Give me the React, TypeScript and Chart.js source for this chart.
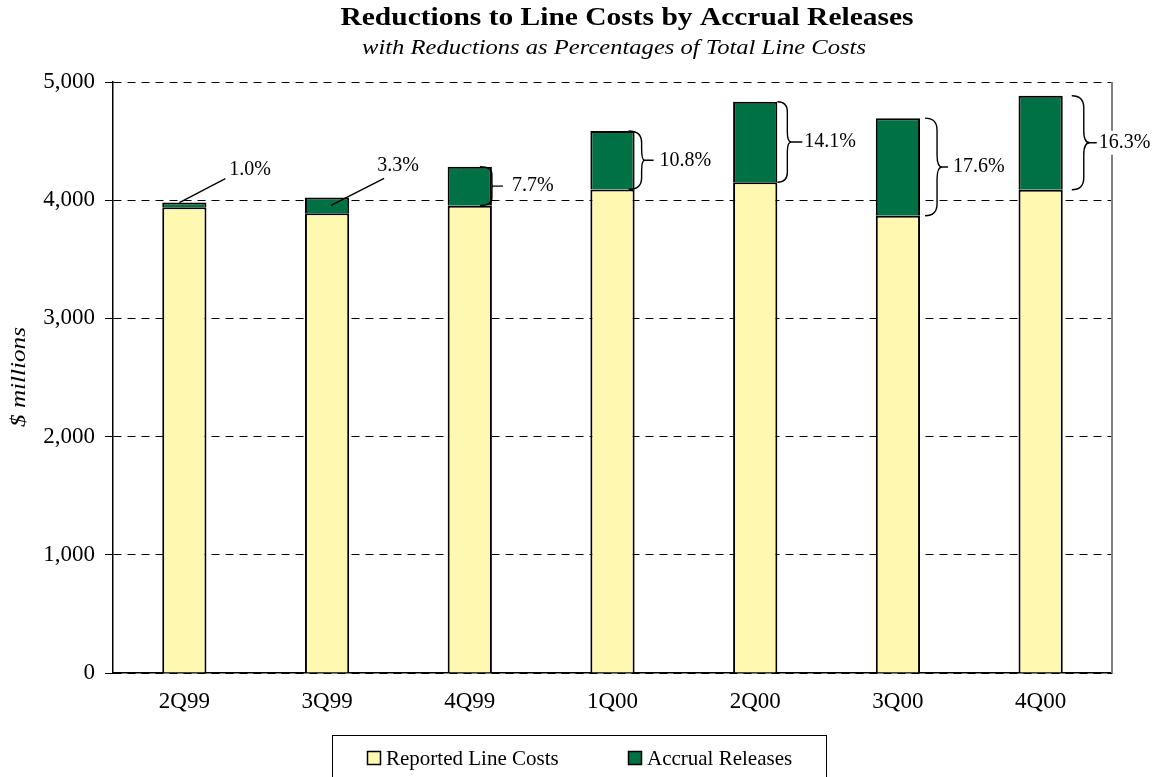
import React, { useEffect, useRef } from "react";
import { Chart, registerables } from "chart.js";

Chart.register(...registerables);

// ---- Data ----
const categories = ["2Q99", "3Q99", "4Q99", "1Q00", "2Q00", "3Q00", "4Q00"];
const reportedLineCosts = [3940, 3890, 3954, 4090, 4152, 3868, 4088];
const accrualReleases = [40, 133, 330, 495, 681, 826, 796];
const reductionLabels = ["1.0%", "3.3%", "7.7%", "10.8%", "14.1%", "17.6%", "16.3%"];
const yTickValues = [0, 1000, 2000, 3000, 4000, 5000];
const seriesNames = ["Reported Line Costs", "Accrual Releases"];
const titleText = "Reductions to Line Costs by Accrual Releases";
const subtitleText = "with Reductions as Percentages of Total Line Costs";
const yAxisTitle = "$ millions";

// ---- Styles ----
const YELLOW = "#FFF8B0";
const GREEN = "#007045";
const FONT = "'Liberation Serif', 'Times New Roman', serif";

// annotation geometry (relative to bar edges), style only
type Leader = { kind: "leader"; sx: number; fromMid: boolean; dx: number; dy: number; lx: number; ly: number; align: CanvasTextAlign };
type Brace = { kind: "brace"; end: number; mid: number; tip: number; tail: number; label: number; bg?: boolean };
const annotationStyles: (Leader | Brace)[] = [
  { kind: "leader", sx: -5, fromMid: false, dx: 46, dy: -24, lx: 50, ly: -33, align: "left" },
  { kind: "leader", sx: 4, fromMid: true, dx: 53, dy: -27, lx: 67, ly: -40, align: "center" },
  { kind: "brace", end: -12, mid: 0, tip: 1, tail: 11, label: 20 },
  { kind: "brace", end: -6, mid: 7, tip: 10, tail: 19, label: 25 },
  { kind: "brace", end: 0, mid: 10, tip: 14, tail: 25, label: 27 },
  { kind: "brace", end: 5, mid: 17, tip: 22, tail: 28, label: 33 },
  { kind: "brace", end: 9, mid: 21, tip: 27, tail: 34, label: 36, bg: true },
];

function drawStretched(ctx: CanvasRenderingContext2D, text: string, cx: number, cy: number, targetWidth: number) {
  const w = ctx.measureText(text).width;
  const sx = targetWidth / w;
  ctx.save();
  ctx.translate(cx, cy);
  ctx.scale(sx, 1);
  ctx.textAlign = "center";
  ctx.fillText(text, 0, 0);
  ctx.restore();
}

const decorPlugin = {
  id: "decor",
  beforeDatasetsDraw(chart: any) {
    const { ctx, chartArea } = chart;
    ctx.save();
    ctx.strokeStyle = "#808080";
    ctx.lineWidth = 2;
    ctx.beginPath();
    ctx.moveTo(chartArea.right, chartArea.top);
    ctx.lineTo(chartArea.right, chartArea.bottom);
    ctx.stroke();
    ctx.restore();
  },
  afterDatasetsDraw(chart: any) {
    const { ctx } = chart;
    const meta = chart.getDatasetMeta(1);
    ctx.save();
    ctx.strokeStyle = "#000";
    ctx.fillStyle = "#000";
    ctx.lineWidth = 1.4;
    ctx.font = `20px ${FONT}`;
    ctx.textBaseline = "middle";
    meta.data.forEach((el: any, i: number) => {
      const p = el.getProps(["x", "y", "base", "width"], true);
      const st = annotationStyles[i];
      const right = p.x + p.width / 2;
      if (st.kind === "leader") {
        const sx = p.x + st.sx;
        const sy = st.fromMid ? (p.y + p.base) / 2 : p.y;
        ctx.beginPath();
        ctx.moveTo(sx, sy);
        ctx.lineTo(sx + st.dx, sy + st.dy);
        ctx.stroke();
        ctx.textAlign = st.align;
        ctx.fillText(reductionLabels[i], sx + st.lx, sy + st.ly);
      } else {
        const yTop = p.y;
        const yBot = p.base;
        const yMid = (yTop + yBot) / 2;
        const xEnd = right + st.end;
        const xMid = right + st.mid;
        const xTip = right + st.tip;
        const r = Math.min(Math.max(st.mid - st.end, 3), (yBot - yTop) / 5);
        ctx.beginPath();
        ctx.moveTo(xEnd, yTop);
        ctx.quadraticCurveTo(xMid, yTop, xMid, yTop + r);
        ctx.lineTo(xMid, yMid - r);
        ctx.quadraticCurveTo(xMid, yMid, xTip, yMid);
        ctx.lineTo(right + st.tail, yMid);
        ctx.moveTo(xTip, yMid);
        ctx.quadraticCurveTo(xMid, yMid, xMid, yMid + r);
        ctx.lineTo(xMid, yBot - r);
        ctx.quadraticCurveTo(xMid, yBot, xEnd, yBot);
        ctx.stroke();
        ctx.textAlign = "left";
        const lx = right + st.label;
        if (st.bg) {
          const w = ctx.measureText(reductionLabels[i]).width;
          ctx.fillStyle = "#fff";
          ctx.fillRect(lx, yMid - 12, w + 2, 24);
          ctx.fillStyle = "#000";
        }
        ctx.fillText(reductionLabels[i], lx, yMid);
      }
    });
    ctx.restore();
  },
  afterDraw(chart: any) {
    const { ctx } = chart;
    ctx.save();
    ctx.fillStyle = "#000";
    ctx.textBaseline = "middle";
    ctx.textAlign = "center";
    // Title & subtitle
    ctx.font = `bold 26px ${FONT}`;
    drawStretched(ctx, titleText, 627, 18, 573);
    ctx.font = `italic 21px ${FONT}`;
    drawStretched(ctx, subtitleText, 614, 48, 504);
    // Y axis title
    ctx.save();
    ctx.translate(19, 377);
    ctx.rotate(-Math.PI / 2);
    ctx.font = `italic 22px ${FONT}`;
    drawStretched(ctx, yAxisTitle, 0, 0, 100);
    ctx.restore();
    // Legend
    ctx.strokeStyle = "#000";
    ctx.lineWidth = 1;
    ctx.strokeRect(332.5, 735.5, 494, 60);
    ctx.font = `21px ${FONT}`;
    ctx.textAlign = "left";
    const items = [
      { x: 367, color: YELLOW },
      { x: 628, color: GREEN },
    ];
    items.forEach((it, k) => {
      ctx.fillStyle = it.color;
      ctx.fillRect(it.x, 751, 13, 13);
      ctx.lineWidth = 1.5;
      ctx.strokeRect(it.x + 0.5, 751.5, 13, 13);
      ctx.fillStyle = "#000";
      ctx.fillText(seriesNames[k], it.x + 19, 759);
    });
    ctx.restore();
  },
};

export default function App() {
  const ref = useRef<HTMLCanvasElement | null>(null);
  useEffect(() => {
    if (!ref.current) return;
    const chart = new Chart(ref.current, {
      type: "bar",
      data: {
        labels: categories,
        datasets: [
          {
            label: seriesNames[0],
            data: reportedLineCosts,
            backgroundColor: YELLOW,
            borderColor: "#000",
            borderWidth: 2,
          },
          {
            label: seriesNames[1],
            data: accrualReleases,
            backgroundColor: GREEN,
            borderColor: "#000",
            borderWidth: 2,
          },
        ],
      },
      options: {
        responsive: false,
        animation: false,
        devicePixelRatio: 1,
        layout: { padding: { top: 82, right: 50, bottom: 0, left: 0 } },
        datasets: { bar: { barPercentage: 0.31, categoryPercentage: 1 } },
        plugins: { legend: { display: false }, title: { display: false }, tooltip: { enabled: false } },
        scales: {
          x: {
            stacked: true,
            grid: { display: false, drawTicks: false },
            border: { display: true, color: "#000", width: 1.5 },
            ticks: { color: "#000", font: { family: FONT, size: 23 }, padding: 15 },
            afterFit: (s: any) => { s.height = 104; },
          },
          y: {
            stacked: true,
            min: 0,
            max: 5000,
            afterBuildTicks: (s: any) => { s.ticks = yTickValues.map((v) => ({ value: v })); },
            ticks: {
              color: "#000",
              font: { family: FONT, size: 23 },
              padding: 10,
              callback: (v: any) => Number(v).toLocaleString("en-US"),
            },
            grid: { color: "#000", lineWidth: 1, tickLength: 8, tickColor: "#000" },
            border: { display: true, color: "#000", width: 1.5, dash: [8, 6] },
            afterFit: (s: any) => { s.width = 113; },
          },
        },
      },
      plugins: [decorPlugin],
    } as any);
    return () => chart.destroy();
  }, []);
  return (
    <div style={{ position: "absolute", left: 0, top: 0, width: 1162, height: 777 }}>
      <canvas ref={ref} width={1162} height={777} />
    </div>
  );
}
